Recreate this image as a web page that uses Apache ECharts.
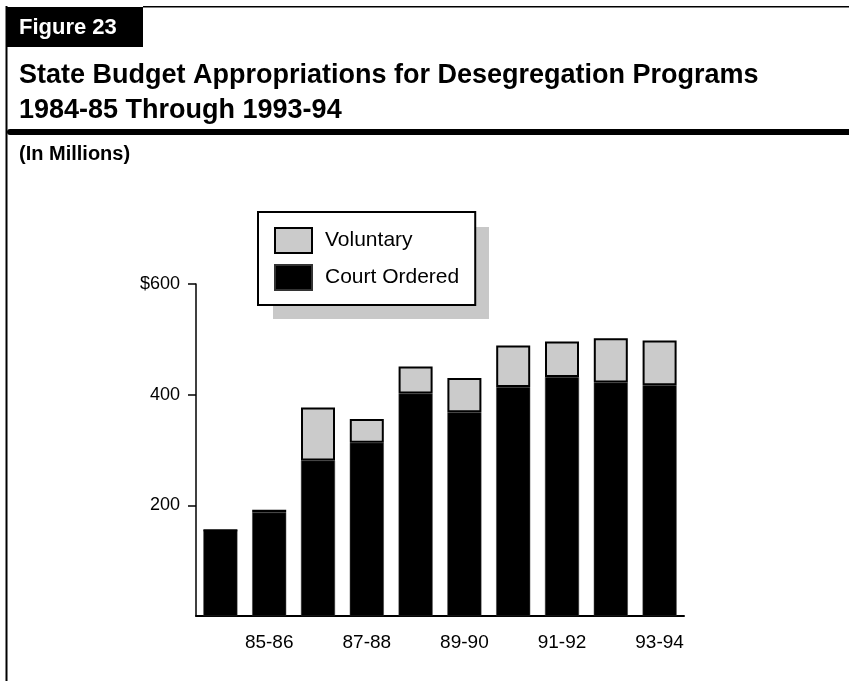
<!DOCTYPE html>
<html>
<head>
<meta charset="utf-8">
<script src="https://cdn.jsdelivr.net/npm/echarts@6/dist/echarts.min.js"></script>
<style>
html,body{margin:0;padding:0;background:#fff;}
#chart{width:849px;height:681px;}
</style>
</head>
<body>
<div id="chart"></div>
<script>
const categories = ['84-85','85-86','86-87','87-88','88-89','89-90','90-91','91-92','92-93','93-94'];
const courtOrdered = [155, 187, 281, 313, 402, 368, 414, 432, 422, 417];
const voluntary = [0, 5, 96, 43, 49, 62, 75, 64, 80, 81];
const yTickValues = [200, 400, 600];
const seriesNames = ['Court Ordered', 'Voluntary'];

const FONT = "'Liberation Sans', Arial, Helvetica, sans-serif";
const chart = echarts.init(document.getElementById('chart'), null, {renderer: 'canvas'});

chart.setOption({
  backgroundColor: '#ffffff',
  animation: false,
  textStyle: {fontFamily: FONT, color: '#000'},
  graphic: [
    {type: 'rect', z: 10, shape: {x: 143, y: 6, width: 706, height: 1.5}, style: {fill: '#000'}},
    {type: 'rect', z: 10, shape: {x: 5.5, y: 6, width: 2, height: 675}, style: {fill: '#000'}},
    {type: 'rect', z: 10, shape: {x: 6, y: 7, width: 137, height: 40}, style: {fill: '#000'}},
    {type: 'text', z: 11, x: 19, y: 28, style: {text: 'Figure 23', fill: '#fff', font: "bold 22px " + FONT, textVerticalAlign: 'middle'}},
    {type: 'text', z: 11, x: 19, y: 58, style: {text: 'State Budget Appropriations for Desegregation Programs\n1984-85 Through 1993-94', fill: '#000', font: "bold 27px " + FONT, lineHeight: 35, textVerticalAlign: 'top'}},
    {type: 'rect', z: 10, shape: {x: 7, y: 129, width: 842, height: 6, r: [3, 0, 0, 3]}, style: {fill: '#000'}},
    {type: 'text', z: 11, x: 19, y: 154, style: {text: '(In Millions)', fill: '#000', font: "bold 20px " + FONT, textVerticalAlign: 'middle'}},
    {type: 'rect', z: 0, zlevel: 0, shape: {x: 273, y: 227, width: 216, height: 92}, style: {fill: '#c8c8c8'}}
  ],
  legend: {
    orient: 'vertical',
    left: 258,
    top: 212,
    z: 5,
    data: ['Voluntary', 'Court Ordered'],
    icon: 'rect',
    itemWidth: 37,
    itemHeight: 25,
    itemGap: 10,
    padding: [15, 16, 14, 16],
    backgroundColor: '#fff',
    borderColor: '#000',
    borderWidth: 2,
    textStyle: {fontSize: 21, color: '#000', fontFamily: FONT, padding: [0, 0, 0, 8]}
  },
  grid: {left: 196, top: 284, width: 488, height: 332, containLabel: false},
  xAxis: {
    type: 'category',
    data: categories,
    axisLine: {lineStyle: {color: '#000', width: 2}},
    axisTick: {show: false},
    axisLabel: {
      interval: function (i) { return i % 2 === 1; },
      fontSize: 19, color: '#000', margin: 17, fontFamily: FONT
    },
    splitLine: {show: false}
  },
  yAxis: {
    type: 'value',
    min: 0, max: 600, interval: 200,
    axisLine: {show: true, lineStyle: {color: '#000', width: 1.5}},
    axisTick: {show: true, inside: false, length: 8, customValues: yTickValues, lineStyle: {color: '#000', width: 1.5}},
    axisLabel: {
      customValues: yTickValues,
      fontSize: 18, color: '#000', margin: 16, fontFamily: FONT,
      formatter: function (v) { return v === 600 ? '$' + v : String(v); }
    },
    splitLine: {show: false}
  },
  series: [
    {
      name: seriesNames[0], type: 'bar', stack: 'total', data: courtOrdered, barWidth: 34,
      itemStyle: {color: '#000', borderColor: '#333', borderWidth: 0.5}
    },
    {
      name: seriesNames[1], type: 'bar', stack: 'total', data: voluntary, barWidth: 34,
      itemStyle: {color: '#cbcbcb', borderColor: '#000', borderWidth: 2}
    }
  ]
});
</script>
</body>
</html>
